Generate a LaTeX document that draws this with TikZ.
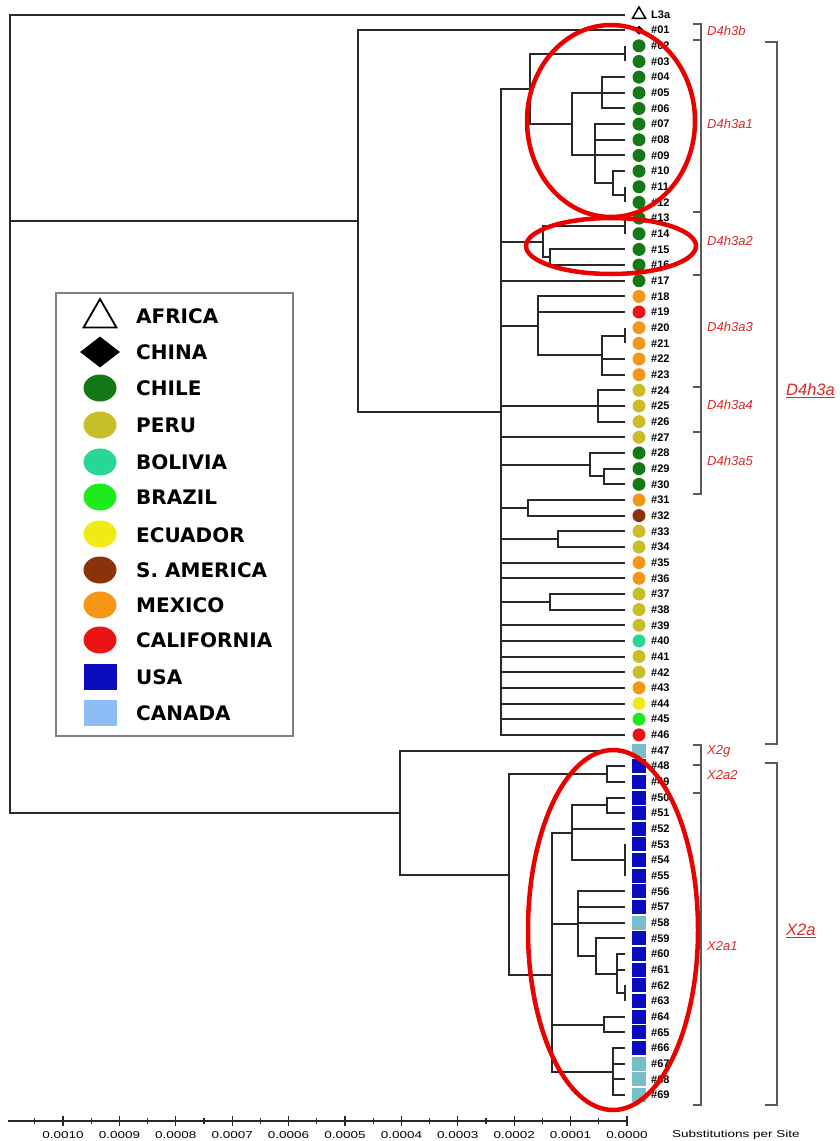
\documentclass[tikz,border=0pt]{standalone}
\usepackage{fontspec}
\setmainfont{Liberation Sans}
\newfontfamily\legfont{DejaVu Sans}
\usetikzlibrary{shapes.geometric}
\definecolor{chile}{RGB}{20,120,20}
\definecolor{peru}{RGB}{200,190,40}
\definecolor{bolivia}{RGB}{40,215,150}
\definecolor{brazil}{RGB}{30,235,30}
\definecolor{ecuador}{RGB}{240,235,20}
\definecolor{samerica}{RGB}{140,50,10}
\definecolor{mexico}{RGB}{245,150,20}
\definecolor{california}{RGB}{235,20,20}
\definecolor{usa}{RGB}{10,10,190}
\definecolor{canada}{RGB}{140,190,245}
\definecolor{canadat}{RGB}{120,190,200}
\definecolor{treeline}{RGB}{40,40,40}
\definecolor{cladered}{RGB}{220,40,40}
\definecolor{ringred}{RGB}{235,0,0}
\definecolor{brkgray}{RGB}{90,90,90}
\begin{document}
\begin{tikzpicture}[x=1pt,y=-1pt,
  tree/.style={draw=treeline,line width=2pt},
  brk/.style={draw=brkgray,line width=1.6pt},
  ring/.style={draw=ringred,line width=4.5pt},
  leafc/.style={circle,fill=#1,minimum size=13pt,inner sep=0pt},
  leafs/.style={rectangle,fill=#1,minimum size=14pt,inner sep=0pt},
  lab/.style={anchor=west,inner sep=0pt,font=\bfseries\fontsize{11}{11}\selectfont},
  clab/.style={anchor=west,inner sep=0pt,text=cladered,font=\itshape\fontsize{13}{13}\selectfont},
  blab/.style={anchor=west,inner sep=0pt,text=cladered,font=\itshape\fontsize{16.5}{16.5}\selectfont},
  legc/.style={ellipse,fill=#1,minimum width=33pt,minimum height=27pt,inner sep=0pt},
  legs/.style={rectangle,fill=#1,minimum width=33pt,minimum height=26pt,inner sep=0pt},
  legt/.style={anchor=west,inner sep=0pt,font=\legfont\bfseries\fontsize{20}{20}\selectfont},
  ticklab/.style={inner sep=0pt,font=\fontsize{10}{10}\selectfont}]
\useasboundingbox (0,0) rectangle (840,1141);
\fill[white] (0,0) rectangle (840,1141);

% leaf end coordinates
\foreach \i in {0,...,69} { \coordinate (L\i) at (625,{14.5+15.66*\i}); }

% internal nodes
\coordinate (R) at (10,400);
\coordinate (N1) at (358,221);
\coordinate (NX) at (400,812.5);
\coordinate (N2) at (501,411.9);
\coordinate (A1) at (530,88.9);
\coordinate (P0203) at (625,53.65);
\coordinate (B572) at (572,124.1);
\coordinate (B456) at (602,92.8);
\coordinate (B0709) at (595,155.44);
\coordinate (B1012) at (613,182.85);
\coordinate (P1112) at (625,194.59);
\coordinate (A2) at (543,241.57);
\coordinate (P1314) at (625,225.91);
\coordinate (B1516) at (550,257.23);
\coordinate (A3) at (538,325.74);
\coordinate (B2023) at (602,355.1);
\coordinate (P2021) at (625,335.53);
\coordinate (A4) at (598,406);
\coordinate (A5) at (590,464.7);
\coordinate (B2930) at (604,476.47);
\coordinate (P3132) at (528,507.79);
\coordinate (P3334) at (558,539.11);
\coordinate (P3738) at (550,601.75);
\coordinate (XA) at (509,874.5);
\coordinate (P4849) at (607,774.01);
\coordinate (X1) at (552,975);
\coordinate (B572x) at (572,832.7);
\coordinate (B5051) at (607,805.33);
\coordinate (P5355) at (625,860.14);
\coordinate (B578) at (578,923.77);
\coordinate (B596) at (596,956.07);
\coordinate (B617) at (617,973.7);
\coordinate (P6263) at (625,993.25);
\coordinate (B6465) at (604,1024.57);
\coordinate (B6669) at (613,1071.55);

% tree edges
\draw[tree] (R) |- (L0);
\draw[tree] (R) |- (N1);
\draw[tree] (R) |- (NX);
\draw[tree] (N1) |- (L1);
\draw[tree] (N1) |- (N2);
\foreach \c in {A1,A2,L17,A3,A4,L27,A5,P3132,P3334,L35,L36,P3738,L39,L40,L41,L42,L43,L44,L45,L46}
  { \draw[tree] (N2) |- (\c); }
\draw[tree] (A1) |- (P0203);
\draw[tree] (L2) -- (L3);
\draw[tree] (A1) |- (B572);
\draw[tree] (B572) |- (B456);
\draw[tree] (B572) |- (B0709);
\foreach \c in {L4,L5,L6} { \draw[tree] (B456) |- (\c); }
\foreach \c in {L7,L8,L9,B1012} { \draw[tree] (B0709) |- (\c); }
\draw[tree] (B1012) |- (L10);
\draw[tree] (B1012) |- (P1112);
\draw[tree] (L11) -- (L12);
\draw[tree] (A2) |- (P1314);
\draw[tree] (L13) -- (L14);
\draw[tree] (A2) |- (B1516);
\foreach \c in {L15,L16} { \draw[tree] (B1516) |- (\c); }
\foreach \c in {L18,L19,B2023} { \draw[tree] (A3) |- (\c); }
\foreach \c in {P2021,L22,L23} { \draw[tree] (B2023) |- (\c); }
\draw[tree] (L20) -- (L21);
\foreach \c in {L24,L25,L26} { \draw[tree] (A4) |- (\c); }
\foreach \c in {L28,B2930} { \draw[tree] (A5) |- (\c); }
\foreach \c in {L29,L30} { \draw[tree] (B2930) |- (\c); }
\foreach \c in {L31,L32} { \draw[tree] (P3132) |- (\c); }
\foreach \c in {L33,L34} { \draw[tree] (P3334) |- (\c); }
\foreach \c in {L37,L38} { \draw[tree] (P3738) |- (\c); }
\draw[tree] (NX) |- (L47);
\draw[tree] (NX) |- (XA);
\draw[tree] (XA) |- (P4849);
\foreach \c in {L48,L49} { \draw[tree] (P4849) |- (\c); }
\draw[tree] (XA) |- (X1);
\foreach \c in {B572x,B578,B6465,B6669} { \draw[tree] (X1) |- (\c); }
\foreach \c in {B5051,L52,P5355} { \draw[tree] (B572x) |- (\c); }
\foreach \c in {L50,L51} { \draw[tree] (B5051) |- (\c); }
\draw[tree] (L53) -- (L55);
\foreach \c in {L56,L57,L58,B596} { \draw[tree] (B578) |- (\c); }
\foreach \c in {L59,B617} { \draw[tree] (B596) |- (\c); }
\foreach \c in {L60,L61,P6263} { \draw[tree] (B617) |- (\c); }
\draw[tree] (L62) -- (L63);
\foreach \c in {L64,L65} { \draw[tree] (B6465) |- (\c); }
\foreach \c in {L66,L67,L68,L69} { \draw[tree] (B6669) |- (\c); }

% leaf markers and labels
\node[regular polygon,regular polygon sides=3,draw,line width=1.5pt,minimum size=15pt,inner sep=0pt] (m0) at (639,14.5) {};
\node[lab] (t0) at (651,14.5) {L3a};
\node[diamond,fill=black,minimum width=10pt,minimum height=9pt,inner sep=0pt] (m1) at (639,30.16) {};
\node[lab] (t1) at (651,30.16) {\#01};
\foreach \n/\s in {2/chile,3/chile,4/chile,5/chile,6/chile,7/chile,8/chile,9/chile,10/chile,
  11/chile,12/chile,13/chile,14/chile,15/chile,16/chile,17/chile,18/mexico,19/california,
  20/mexico,21/mexico,22/mexico,23/mexico,24/peru,25/peru,26/peru,27/peru,28/chile,29/chile,
  30/chile,31/mexico,32/samerica,33/peru,34/peru,35/mexico,36/mexico,37/peru,38/peru,39/peru,
  40/bolivia,41/peru,42/peru,43/mexico,44/ecuador,45/brazil,46/california}
{
  \node[leafc=\s] (m\n) at (639,{14.5+15.66*\n}) {};
  \node[lab] (t\n) at (651,{14.5+15.66*\n}) {\#\ifnum\n<10 0\fi\n};
}
\foreach \n/\s in {47/canadat,48/usa,49/usa,50/usa,51/usa,52/usa,53/usa,54/usa,55/usa,56/usa,
  57/usa,58/canadat,59/usa,60/usa,61/usa,62/usa,63/usa,64/usa,65/usa,66/usa,67/canadat,
  68/canadat,69/canadat}
{
  \node[leafs=\s] (m\n) at (639,{14.5+15.66*\n}) {};
  \node[lab] (t\n) at (651,{14.5+15.66*\n}) {\#\n};
}

% clade brackets
\draw[brk] (693,24) -- (701,24) -- (701,494) -- (693,494);
\foreach \yy in {40,212,275,387,432} { \draw[brk] (693,\yy) -- (701,\yy); }
\draw[brk] (693,745) -- (701,745) -- (701,1105) -- (693,1105);
\foreach \yy in {765,793} { \draw[brk] (693,\yy) -- (701,\yy); }
\draw[brk] (765,42) -- (777,42) -- (777,744) -- (765,744);
\draw[brk] (765,763) -- (777,763) -- (777,1105) -- (765,1105);

\node[clab] (c1) at (707,31) {D4h3b};
\node[clab] (c2) at (707,124) {D4h3a1};
\node[clab] (c3) at (707,241) {D4h3a2};
\node[clab] (c4) at (707,327) {D4h3a3};
\node[clab] (c5) at (707,405) {D4h3a4};
\node[clab] (c6) at (707,461) {D4h3a5};
\node[clab] (c7) at (707,751) {X2g};
\node[clab] (c8) at (707,775) {X2a2};
\node[clab] (c9) at (707,946) {X2a1};
\node[blab] (c10) at (786,391) {\underline{D4h3a}};
\node[blab] (c11) at (786,931) {\underline{X2a}};

% legend
\draw[draw=gray,line width=1.4pt] (56,293) rectangle (293,736);
\node[regular polygon,regular polygon sides=3,draw,line width=1.8pt,minimum size=38pt,inner sep=0pt] (g1) at (100,318) {};
\node[diamond,fill=black,minimum width=40pt,minimum height=31pt,inner sep=0pt] (g2) at (100,352) {};
\node[legc=chile] (g3) at (100,388) {};
\node[legc=peru] (g4) at (100,425) {};
\node[legc=bolivia] (g5) at (100,462) {};
\node[legc=brazil] (g6) at (100,497) {};
\node[legc=ecuador] (g7) at (100,534) {};
\node[legc=samerica] (g8) at (100,570) {};
\node[legc=mexico] (g9) at (100,605) {};
\node[legc=california] (g10) at (100,640) {};
\node[legs=usa] (g11) at (100,677) {};
\node[legs=canada] (g12) at (100,713) {};
\node[legt] (e1) at (136,316) {AFRICA};
\node[legt] (e2) at (136,352) {CHINA};
\node[legt] (e3) at (136,388) {CHILE};
\node[legt] (e4) at (136,425) {PERU};
\node[legt] (e5) at (136,462) {BOLIVIA};
\node[legt] (e6) at (136,497) {BRAZIL};
\node[legt] (e7) at (136,535) {ECUADOR};
\node[legt] (e8) at (136,570) {S. AMERICA};
\node[legt] (e9) at (136,605) {MEXICO};
\node[legt] (e10) at (136,640) {CALIFORNIA};
\node[legt] (e11) at (136,677) {USA};
\node[legt] (e12) at (136,713) {CANADA};

% scale bar
\draw[draw=treeline,line width=1.2pt] (8,1121) -- (627,1121);
\foreach \k/\v in {0/0.0000,1/0.0001,2/0.0002,3/0.0003,4/0.0004,5/0.0005,6/0.0006,7/0.0007,8/0.0008,9/0.0009,10/0.0010}
{
  \draw[draw=treeline,line width=1.2pt] ({627-56.4*\k},1116) -- ({627-56.4*\k},1126);
  \draw[draw=treeline,line width=1.2pt] ({627-56.4*\k-28.2},1118) -- ({627-56.4*\k-28.2},1124);
  \node[ticklab] (s\k) at ({627-56.4*\k},1135) {\scalebox{1.35}[1]{\v}};
}
\node[ticklab,anchor=west] (sub) at (672,1135) {\scalebox{1.35}[1]{Substitutions per Site}};

% red rings
\draw[ring] (611,121) ellipse [x radius=84pt,y radius=96pt];
\draw[ring] (611,246) ellipse [x radius=85pt,y radius=28pt];
\draw[ring] (613,930) ellipse [x radius=85pt,y radius=180pt];
\end{tikzpicture}
\end{document}
